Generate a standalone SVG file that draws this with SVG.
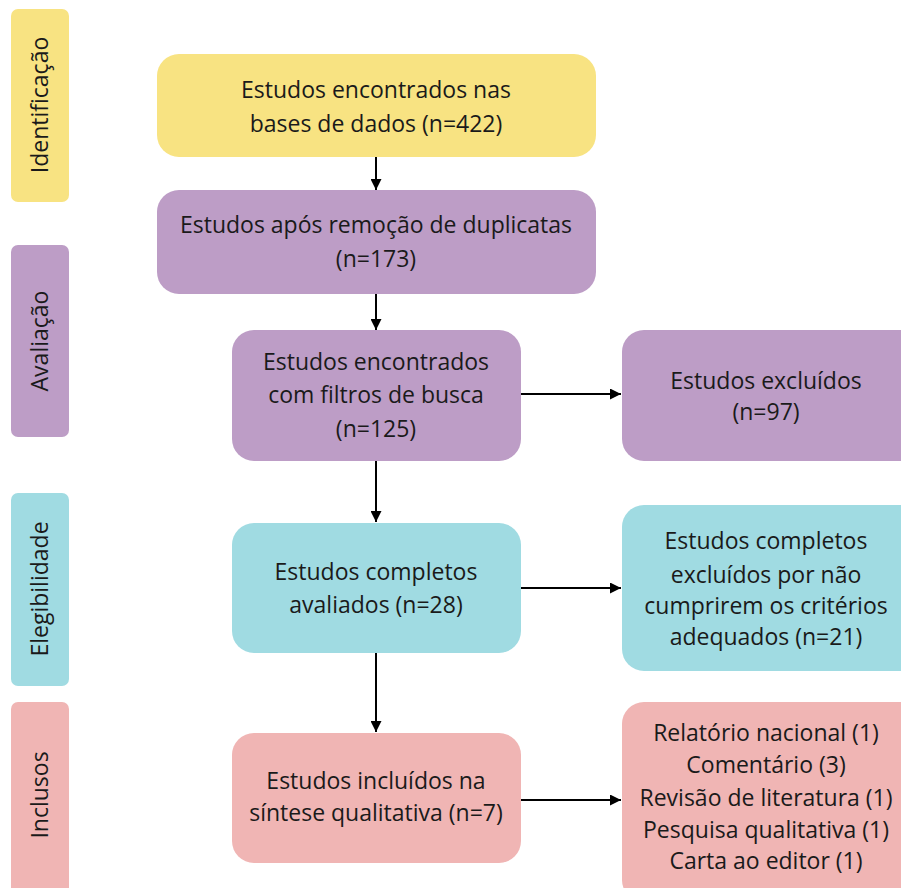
<svg xmlns="http://www.w3.org/2000/svg" width="901" height="888" viewBox="0 0 901 888">
<defs>
<marker id="ah" viewBox="0 0 10 10" refX="10" refY="5" markerWidth="5.5" markerHeight="5.5" markerUnits="strokeWidth" orient="auto">
<path d="M0,0 L10,5 L0,10 z" fill="#000"/>
</marker>
<style>
text{font-family:"Open Sans","Lato",sans-serif;font-size:23px;fill:#1a1a1a;text-anchor:middle}
.y{fill:#F8E382}
.p{fill:#BD9DC6}
.t{fill:#A0DBE2}
.k{fill:#F0B5B4}
.c line{stroke:#000;stroke-width:2;marker-end:url(#ah)}
</style>
</defs>
<rect width="901" height="888" fill="#fff"/>
<g id="lbl-identificacao"><rect class="y" x="11" y="9" width="58" height="193" rx="7"/><text transform="translate(48,105) rotate(-90)">Identificação</text></g>
<g id="lbl-avaliacao"><rect class="p" x="11" y="245" width="58" height="192" rx="7"/><text transform="translate(48,341) rotate(-90)">Avaliação</text></g>
<g id="lbl-elegibilidade"><rect class="t" x="11" y="493" width="58" height="193" rx="7"/><text transform="translate(48,589) rotate(-90)">Elegibilidade</text></g>
<g id="lbl-inclusos"><rect class="k" x="11" y="702" width="58" height="200" rx="7"/><text transform="translate(48,795) rotate(-90)">Inclusos</text></g>
<g id="n1"><rect class="y" x="157" y="54" width="439" height="103" rx="22"/><text x="376" y="98">Estudos encontrados nas</text><text x="376" y="132">bases de dados (n=422)</text></g>
<g id="n2"><rect class="p" x="157" y="190" width="439" height="104" rx="22"/><text x="376" y="233">Estudos após remoção de duplicatas</text><text x="376" y="267">(n=173)</text></g>
<g id="n3"><rect class="p" x="232" y="330" width="289" height="131" rx="22"/><text x="376" y="370">Estudos encontrados</text><text x="376" y="403">com filtros de busca</text><text x="376" y="437">(n=125)</text></g>
<g id="n4"><rect class="p" x="622" y="330" width="300" height="131" rx="22"/><text x="766" y="389">Estudos excluídos</text><text x="766" y="420">(n=97)</text></g>
<g id="n5"><rect class="t" x="232" y="523" width="289" height="130" rx="22"/><text x="376" y="580">Estudos completos</text><text x="376" y="613">avaliados (n=28)</text></g>
<g id="n6"><rect class="t" x="622" y="505" width="300" height="166" rx="22"/><text x="766" y="549">Estudos completos</text><text x="766" y="583">excluídos por não</text><text x="766" y="614">cumprirem os critérios</text><text x="766" y="645">adequados (n=21)</text></g>
<g id="n7"><rect class="k" x="232" y="733" width="289" height="130" rx="22"/><text x="376" y="789">Estudos incluídos na</text><text x="376" y="821">síntese qualitativa (n=7)</text></g>
<g id="n8"><rect class="k" x="622" y="702" width="300" height="200" rx="22"/><text x="766" y="741">Relatório nacional (1)</text><text x="766" y="773">Comentário (3)</text><text x="766" y="806">Revisão de literatura (1)</text><text x="766" y="838">Pesquisa qualitativa (1)</text><text x="766" y="869">Carta ao editor (1)</text></g>
<g id="connectors" class="c">
<line x1="376" y1="157" x2="376" y2="190"/>
<line x1="376" y1="294" x2="376" y2="330"/>
<line x1="376" y1="461" x2="376" y2="522"/>
<line x1="376" y1="653" x2="376" y2="732"/>
<line x1="521" y1="394" x2="621" y2="394"/>
<line x1="521" y1="588" x2="621" y2="588"/>
<line x1="521" y1="800" x2="621" y2="800"/>
</g>
</svg>
